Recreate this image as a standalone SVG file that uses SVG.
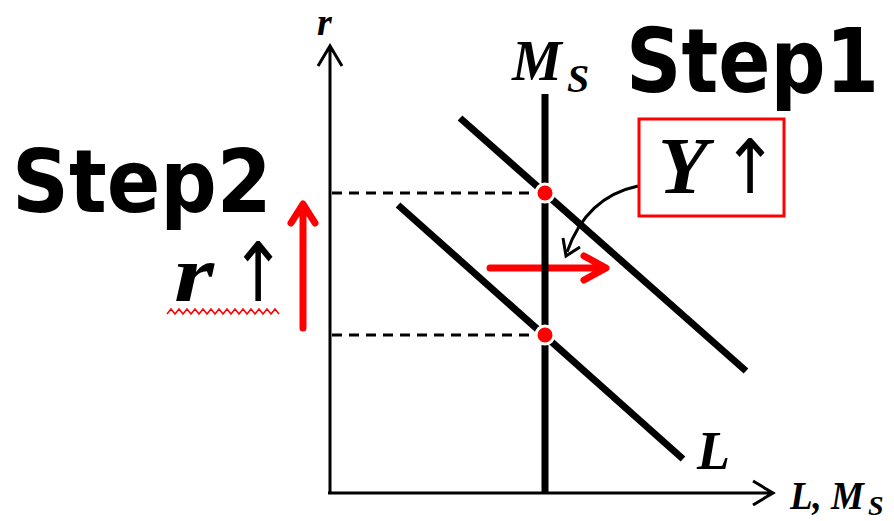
<svg xmlns="http://www.w3.org/2000/svg" width="894" height="521" viewBox="0 0 894 521">
<defs>
<style>
.step{font-family:"DejaVu Sans","Liberation Sans",sans-serif;font-weight:bold;fill:#000}
.math{font-family:"Liberation Serif","DejaVu Serif",serif;font-weight:bold;font-style:italic;fill:#000}
.arr{font-family:"DejaVu Sans","Liberation Sans",sans-serif;fill:#000}
.ax{stroke:#000;stroke-width:3;fill:none}
.curve{stroke:#000;stroke-width:7;stroke-linecap:butt}
.dash{stroke:#000;stroke-width:3;stroke-dasharray:10 7}
.dot{fill:#ff0000;stroke:#fff;stroke-width:3}
.red{stroke:#ff0000;stroke-width:7;fill:none;stroke-linecap:round;stroke-linejoin:round}
</style>
</defs>
<rect width="894" height="521" fill="#fff"/>
<g id="axes">
<path class="ax" d="M330 494 V46 M318 66 L330 46 L342 66"/>
<path class="ax" d="M328 493 H773 M753 481 L773 493 L753 505"/>
</g>
<g id="connectors">
<line class="dash" x1="332" y1="193" x2="540" y2="193"/>
<line class="dash" x1="332" y1="335" x2="540" y2="335"/>
<path d="M638 186 C605 193 580 215 567 252" stroke="#000" stroke-width="3" fill="none"/>
<path d="M563 238 L566 256 L580 247" stroke="#000" stroke-width="3" fill="none"/>
<path class="red" d="M490 268 H604 M584 256 L606 268 L584 280"/>
<path class="red" d="M303 328 V205 M291 223 L303 204 L315 223"/>
</g>
<g id="Ms-line">
<line class="curve" x1="545" y1="94" x2="545" y2="493"/>
</g>
<g id="L1">
<line class="curve" x1="460" y1="118" x2="746" y2="371"/>
</g>
<g id="L0">
<line class="curve" x1="398" y1="205" x2="683" y2="459"/>
</g>
<g id="points">
<circle class="dot" cx="545" cy="193" r="9"/>
<circle class="dot" cx="545" cy="335" r="9"/>
</g>
<g id="labels">
<text class="math" x="317" y="35" font-size="38">r</text>
<text class="math" x="512" y="80" font-size="56">M</text>
<text class="math" x="567" y="92" font-size="40">S</text>
<text class="math" x="697" y="469" font-size="54">L</text>
<text class="math" x="790" y="509" font-size="40" textLength="74" lengthAdjust="spacingAndGlyphs">L, M</text>
<text class="math" x="868" y="515" font-size="28">S</text>
</g>
<g id="step1">
<text class="step" transform="translate(626,92) scale(1,1.15)" font-size="77">Step1</text>
</g>
<g id="box-Y">
<rect x="639" y="119" width="145" height="97" fill="none" stroke="#ff0000" stroke-width="3"/>
<text class="math" x="658" y="193" font-size="80" textLength="50" lengthAdjust="spacingAndGlyphs">Y</text>
<text class="arr" transform="translate(722,193) scale(0.9,1)" font-size="75">↑</text>
</g>
<g id="step2">
<text class="step" transform="translate(12,212) scale(1,1.1)" font-size="79">Step2</text>
<text class="math" x="174" y="301" font-size="80" textLength="40" lengthAdjust="spacingAndGlyphs">r</text>
<text class="arr" transform="translate(230,301) scale(0.82,1)" font-size="82">↑</text>
<path d="M167 314 l4 -5 l4 5 l4 -5 l4 5 l4 -5 l4 5 l4 -5 l4 5 l4 -5 l4 5 l4 -5 l4 5 l4 -5 l4 5 l4 -5 l4 5 l4 -5 l4 5 l4 -5 l4 5 l4 -5 l4 5 l4 -5 l4 5 l4 -5 l4 5 l4 -5 l4 5" stroke="#ff0000" stroke-width="1.5" fill="none"/>
</g>
</svg>
